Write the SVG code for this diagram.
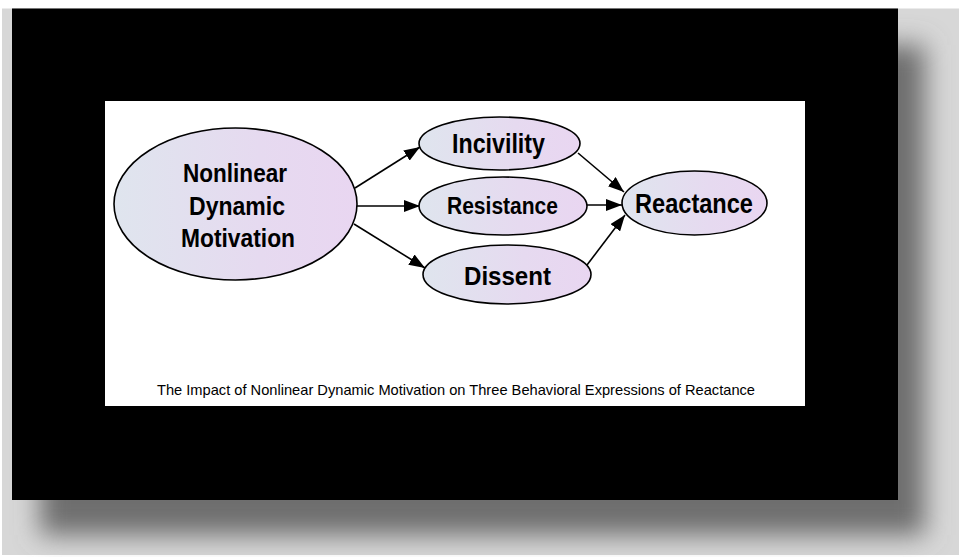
<svg xmlns="http://www.w3.org/2000/svg" width="959" height="557" viewBox="0 0 959 557">
<style>
.node{stroke:#000;stroke-width:1.6;fill:url(#ng)}
.lbl{font-family:"Liberation Sans",Arial,sans-serif;font-weight:bold;fill:#000;text-anchor:start}
.edge{stroke:#000;stroke-width:1.6;fill:none;marker-end:url(#ah)}
.cap{font-family:"Liberation Sans",Arial,sans-serif;fill:#000;font-size:14.5px}
</style>
<defs>
<linearGradient id="ng" x1="0" y1="0" x2="1" y2="0">
<stop offset="0" stop-color="#dfe5ee"/>
<stop offset="0.6" stop-color="#e6daf0"/>
<stop offset="1" stop-color="#e9d6f1"/>
</linearGradient>
<filter id="sh" x="-10%" y="-10%" width="120%" height="130%">
<feGaussianBlur stdDeviation="13"/>
</filter>
<marker id="ah" viewBox="0 0 16 12" refX="16" refY="6" markerWidth="16" markerHeight="12" markerUnits="userSpaceOnUse" orient="auto">
<path d="M0,0 L16,6 L0,12 Z" fill="#000"/>
</marker>
</defs>
<rect x="0" y="0" width="959" height="557" fill="#ffffff"/>
<rect x="2" y="8.5" width="957" height="546.5" fill="#d7d7d7"/>
<rect x="40" y="45" width="885" height="490" fill="#6e6e6e" filter="url(#sh)"/>
<rect x="12" y="8.5" width="886" height="491.5" fill="#000"/>
<rect x="105" y="101" width="700" height="305" fill="#ffffff"/>

<g id="connectors">
<line class="edge" x1="355" y1="188" x2="420" y2="147"/>
<line class="edge" x1="357" y1="206" x2="420" y2="206"/>
<line class="edge" x1="354" y1="224" x2="425" y2="268"/>
<line class="edge" x1="578" y1="153" x2="624" y2="192"/>
<line class="edge" x1="587" y1="205" x2="622" y2="205"/>
<line class="edge" x1="587" y1="265" x2="625" y2="215"/>
</g>

<g id="n-motivation">
<ellipse class="node" cx="235.5" cy="204" rx="121.5" ry="76"/>
<text class="lbl" font-size="26" x="183" y="182" textLength="104" lengthAdjust="spacingAndGlyphs">Nonlinear</text>
<text class="lbl" font-size="26" x="189" y="215" textLength="96" lengthAdjust="spacingAndGlyphs">Dynamic</text>
<text class="lbl" font-size="26" x="181" y="247" textLength="114" lengthAdjust="spacingAndGlyphs">Motivation</text>
</g>

<g id="n-incivility">
<ellipse class="node" cx="499.5" cy="143.5" rx="80.5" ry="26.5"/>
<text class="lbl" font-size="27" x="452" y="153" textLength="93" lengthAdjust="spacingAndGlyphs">Incivility</text>
</g>

<g id="n-resistance">
<ellipse class="node" cx="503" cy="206" rx="84" ry="29"/>
<text class="lbl" font-size="23" x="447" y="214" textLength="111" lengthAdjust="spacingAndGlyphs">Resistance</text>
</g>

<g id="n-dissent">
<ellipse class="node" cx="507" cy="274.5" rx="84" ry="29.5"/>
<text class="lbl" font-size="26" x="464" y="285" textLength="87" lengthAdjust="spacingAndGlyphs">Dissent</text>
</g>

<g id="n-reactance">
<ellipse class="node" cx="694.5" cy="203" rx="72.5" ry="32"/>
<text class="lbl" font-size="27" x="635" y="213" textLength="118" lengthAdjust="spacingAndGlyphs">Reactance</text>
</g>

<text class="cap" x="157" y="395" textLength="598" lengthAdjust="spacingAndGlyphs">The Impact of Nonlinear Dynamic Motivation on Three Behavioral Expressions of Reactance</text>
</svg>
